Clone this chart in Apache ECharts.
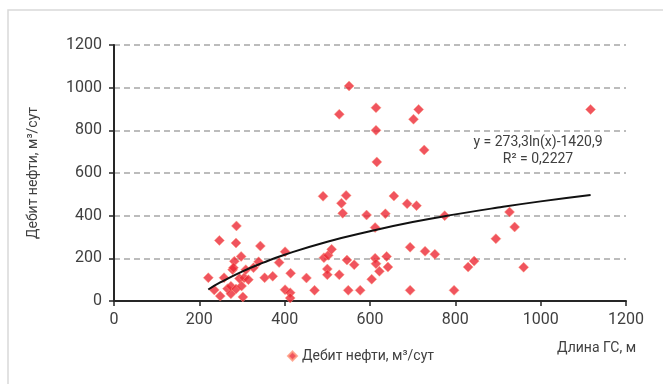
<!DOCTYPE html>
<html>
<head>
<meta charset="utf-8">
<script src="https://cdn.jsdelivr.net/npm/echarts@6/dist/echarts.min.js"></script>
<style>
  html, body { margin: 0; padding: 0; background: #fff; }
  #chart { width: 663px; height: 384px; }
</style>
</head>
<body>
<div id="chart"></div>
<script>
// длина ГС, м / дебит нефти, м3/сут
var wellPoints = [
  [221,109],[235,52],[247,284],[249,23],[258,109],[266,58],[274,34],[274,69],
  [278,147],[282,186],[280,156],[287,352],[286,272],[286,56],[294,105],[298,209],
  [299,70],[302,19],[305,109],[315,100],[309,147],[327,156],[339,184],[343,258],
  [353,109],[372,116],[387,180],[401,231],[414,130],[401,53],[413,39],[413,14],
  [451,108],[470,50],
  [490,491],[492,203],[502,214],[510,242],[500,150],[500,123],[528,875],[533,458],
  [536,411],[544,495],[551,1008],[546,192],[528,123],[549,50],[563,170],[577,50],
  [592,403],[604,102],[614,906],[614,800],[616,652],[612,344],[612,200],[614,175],
  [622,139],[642,159],[639,209],[636,409],[656,492],[687,456],[709,447],[702,852],
  [714,898],[727,708],[694,252],[729,233],[752,219],[775,400],[694,50],[797,50],
  [830,159],[844,187],[895,292],[927,417],[939,347],[960,158],[1117,898]
];

// логарифмическая линия тренда (точки)
var trendPoints = [
  [221,54],[250,88],[300,138],[350,180],[400,217],[500,278],[600,327],
  [700,370],[800,406],[900,438],[1000,467],[1117,497]
];

var trendLabel = ['y = 273,3ln(x)-1420,9', 'R² = 0,2227'];
var xTicks = [0, 1200, 200];
var yTicks = [0, 1200, 200];

var myChart = echarts.init(document.getElementById('chart'));
var txtColor = '#404040';

function plain(v) { return String(v); } // без разделителя тысяч

myChart.setOption({
  animation: false,
  textStyle: { fontFamily: 'Roboto' },
  grid: { left: 114, right: 37, top: 45, bottom: 83 },
  legend: {
    left: 282,
    top: 344,
    data: ['Дебит нефти, м³/сут'],
    icon: 'diamond',
    itemWidth: 9,
    itemHeight: 9,
    itemGap: 4,
    textStyle: { fontSize: 14, color: txtColor, fontFamily: 'Roboto' }
  },
  graphic: [
    {
      type: 'rect',
      shape: { x: 8, y: 10, width: 700, height: 420 },
      style: { fill: 'none', stroke: '#d9d9d9', lineWidth: 1.5 },
      silent: true
    },
    {
      type: 'text',
      left: 557,
      top: 341,
      style: { text: 'Длина ГС, м', fontSize: 14, fill: txtColor, fontFamily: 'Roboto' }
    },
    {
      type: 'text',
      x: 538,
      y: 151,
      style: {
        text: trendLabel.join('\n'),
        fontSize: 14,
        lineHeight: 17,
        fill: txtColor,
        align: 'center',
        verticalAlign: 'middle',
        fontFamily: 'Roboto'
      }
    }
  ],
  xAxis: {
    type: 'value',
    min: xTicks[0],
    max: xTicks[1],
    interval: xTicks[2],
    axisLine: { lineStyle: { color: '#262626', width: 2 } },
    axisTick: { show: true, length: 5, lineStyle: { color: '#262626', width: 1.5 } },
    axisLabel: { fontSize: 16, color: txtColor, margin: 11, formatter: plain },
    splitLine: { show: false }
  },
  yAxis: {
    type: 'value',
    min: yTicks[0],
    max: yTicks[1],
    interval: yTicks[2],
    name: 'Дебит нефти, м³/сут',
    nameLocation: 'middle',
    nameGap: 74,
    nameTextStyle: { fontSize: 14, color: txtColor, fontFamily: 'Roboto' },
    axisLine: { show: true, lineStyle: { color: '#262626', width: 2 } },
    axisTick: { show: true, length: 5, lineStyle: { color: '#262626', width: 1.5 } },
    axisLabel: { fontSize: 16, color: txtColor, margin: 12, formatter: plain },
    splitLine: {
      show: true,
      lineStyle: { color: '#a6a6a6', width: 1.5, type: [6, 4] }
    }
  },
  series: [
    {
      name: 'Дебит нефти, м³/сут',
      type: 'scatter',
      symbol: 'diamond',
      symbolSize: 10,
      itemStyle: { color: '#ec2936', borderColor: '#ff9a80', borderWidth: 0.6 },
      data: wellPoints,
      z: 3
    },
    {
      name: 'trend',
      type: 'line',
      smooth: true,
      symbol: 'none',
      lineStyle: { color: '#111', width: 2 },
      data: trendPoints,
      z: 4
    }
  ]
});
</script>
</body>
</html>
